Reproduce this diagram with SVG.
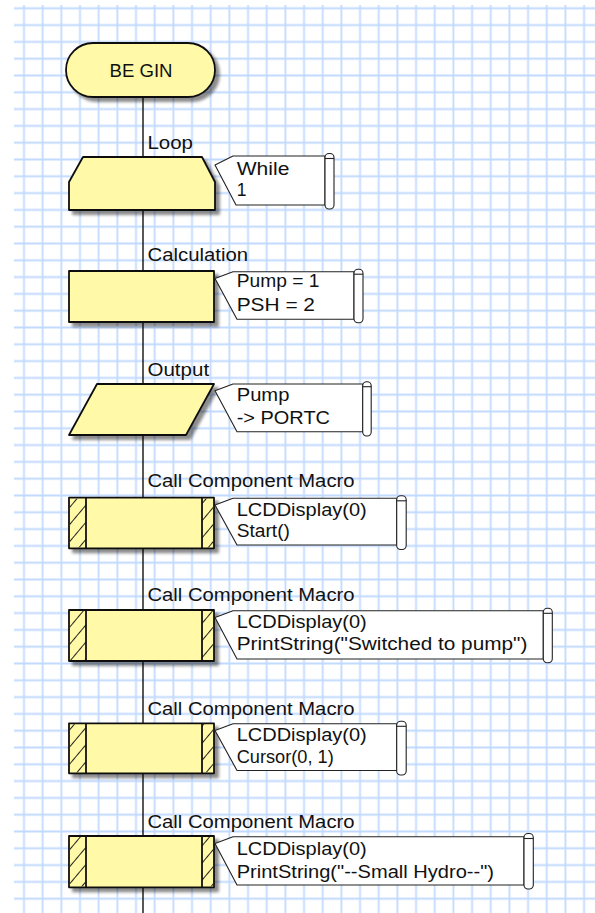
<svg xmlns="http://www.w3.org/2000/svg" width="595" height="913" viewBox="0 0 595 913">
<defs>
<pattern id="grid" patternUnits="userSpaceOnUse" x="14.67" y="-0.1" width="18.67" height="16.8">
<path d="M9.33 0V16.8M0 8.4H18.67" stroke="#c2daff" stroke-width="1.8" fill="none"/>
</pattern>
<pattern id="hatch" patternUnits="userSpaceOnUse" width="11" height="11" patternTransform="rotate(-50)">
<line x1="0" y1="5.5" x2="11" y2="5.5" stroke="#222" stroke-width="1"/>
</pattern>
<filter id="sh" x="-10%" y="-10%" width="130%" height="140%">
<feDropShadow dx="4" dy="4" stdDeviation="1.6" flood-color="#000" flood-opacity="0.45"/>
</filter>
<style>
.shape{fill:#fff9a8;stroke:#111;stroke-width:1.8;stroke-linejoin:round}
.band{fill:url(#hatch);stroke:none}
.div{stroke:#111;stroke-width:1.8}
.cm{fill:#fff;stroke:#222;stroke-width:1.1;stroke-linejoin:round}
.scroll{fill:#fff;stroke:#222;stroke-width:1.1}
text{font-family:"Liberation Sans",Arial,sans-serif;font-size:17.5px;fill:#111}
.conn{stroke:#111;stroke-width:1.4;fill:none}
</style>
</defs>
<rect width="595" height="913" fill="#fff"/>
<rect x="14" y="5" width="581" height="908" fill="url(#grid)"/>

<g id="connectors">
<line class="conn" x1="143" y1="97" x2="143" y2="913"/>
</g>

<g id="begin">
<rect class="shape" x="66" y="43" width="149" height="54" rx="27" filter="url(#sh)"/>
<text x="141" y="77" text-anchor="middle" textLength="63" lengthAdjust="spacingAndGlyphs">BE GIN</text>
</g>

<g id="loop">
<text x="147.5" y="149" textLength="45.5" lengthAdjust="spacingAndGlyphs">Loop</text>
<path class="shape" d="M83 157H202L215 182V210H69V182Z" filter="url(#sh)"/>
<path class="cm" d="M233 156H325V205H236L215 165Z"/>
<rect class="scroll" x="325" y="153.5" width="9" height="55.5" rx="4"/>
<line class="scroll" x1="325" y1="158.5" x2="334" y2="158.5"/>
<text x="236.7" y="174.5" textLength="52.7" lengthAdjust="spacingAndGlyphs">While</text>
<text x="236.7" y="196">1</text>
</g>

<g id="calculation">
<text x="147.5" y="261" textLength="100.6" lengthAdjust="spacingAndGlyphs">Calculation</text>
<rect class="shape" x="69" y="271" width="145" height="51" filter="url(#sh)"/>
<path class="cm" d="M233 271.7H354V319.3H237L215 278.5Z"/>
<rect class="scroll" x="354" y="269.2" width="9" height="53.5" rx="4"/>
<line class="scroll" x1="354" y1="274.2" x2="363" y2="274.2"/>
<text x="236.7" y="287.3" textLength="82.7" lengthAdjust="spacingAndGlyphs">Pump = 1</text>
<text x="236.7" y="310.5" textLength="78.3" lengthAdjust="spacingAndGlyphs">PSH = 2</text>
</g>

<g id="output">
<text x="147.5" y="375.7" textLength="61.6" lengthAdjust="spacingAndGlyphs">Output</text>
<path class="shape" d="M97 384H214L186 435H69Z" filter="url(#sh)"/>
<path class="cm" d="M233 384H362.7V431.7H237L215 390.7Z"/>
<rect class="scroll" x="362.7" y="381.7" width="8.5" height="54.3" rx="4"/>
<line class="scroll" x1="362.7" y1="386.7" x2="371.2" y2="386.7"/>
<text x="236.7" y="400.7" textLength="52.7" lengthAdjust="spacingAndGlyphs">Pump</text>
<text x="236.7" y="424" textLength="93.3" lengthAdjust="spacingAndGlyphs">-&gt; PORTC</text>
</g>

<g id="macro1">
<text x="147.5" y="487" textLength="207" lengthAdjust="spacingAndGlyphs">Call Component Macro</text>
<rect class="shape" x="69" y="497.7" width="145" height="50.6" filter="url(#sh)"/>
<rect class="band" x="69.9" y="498.6" width="16.1" height="48.8"/>
<rect class="band" x="202" y="498.6" width="11.1" height="48.8"/>
<line class="div" x1="86" y1="497.7" x2="86" y2="548.3"/>
<line class="div" x1="202" y1="497.7" x2="202" y2="548.3"/>
<path class="cm" d="M233 498.3H396.7V545H237L215 505Z"/>
<rect class="scroll" x="396.7" y="495.8" width="9.5" height="53.7" rx="4"/>
<line class="scroll" x1="396.7" y1="500.8" x2="406.2" y2="500.8"/>
<text x="236.7" y="516" textLength="130" lengthAdjust="spacingAndGlyphs">LCDDisplay(0)</text>
<text x="236.7" y="537.3" textLength="53.3" lengthAdjust="spacingAndGlyphs">Start()</text>
</g>

<g id="macro2">
<text x="147.5" y="601" textLength="207" lengthAdjust="spacingAndGlyphs">Call Component Macro</text>
<rect class="shape" x="69" y="610" width="145" height="51" filter="url(#sh)"/>
<rect class="band" x="69.9" y="610.9" width="16.1" height="49.2"/>
<rect class="band" x="202" y="610.9" width="11.1" height="49.2"/>
<line class="div" x1="86" y1="610" x2="86" y2="661"/>
<line class="div" x1="202" y1="610" x2="202" y2="661"/>
<path class="cm" d="M233 610.7H543.3V659H237L215 617.5Z"/>
<rect class="scroll" x="543.3" y="608.3" width="9" height="54.4" rx="4"/>
<line class="scroll" x1="543.3" y1="613.3" x2="552.3" y2="613.3"/>
<text x="236.7" y="628.3" textLength="130" lengthAdjust="spacingAndGlyphs">LCDDisplay(0)</text>
<text x="236.7" y="650" textLength="290.7" lengthAdjust="spacingAndGlyphs">PrintString("Switched to pump")</text>
</g>

<g id="macro3">
<text x="147.5" y="714.5" textLength="207" lengthAdjust="spacingAndGlyphs">Call Component Macro</text>
<rect class="shape" x="69" y="723.3" width="145" height="50" filter="url(#sh)"/>
<rect class="band" x="69.9" y="724.2" width="16.1" height="48.2"/>
<rect class="band" x="202" y="724.2" width="11.1" height="48.2"/>
<line class="div" x1="86" y1="723.3" x2="86" y2="773.3"/>
<line class="div" x1="202" y1="723.3" x2="202" y2="773.3"/>
<path class="cm" d="M233 723.8H396.7V770.5H237L215 730.5Z"/>
<rect class="scroll" x="396.7" y="721.3" width="9.5" height="53.7" rx="4"/>
<line class="scroll" x1="396.7" y1="726.3" x2="406.2" y2="726.3"/>
<text x="236.7" y="741.3" textLength="130" lengthAdjust="spacingAndGlyphs">LCDDisplay(0)</text>
<text x="236.7" y="762.7" textLength="97" lengthAdjust="spacingAndGlyphs">Cursor(0, 1)</text>
</g>

<g id="macro4">
<text x="147.5" y="828" textLength="207" lengthAdjust="spacingAndGlyphs">Call Component Macro</text>
<rect class="shape" x="69" y="836" width="145" height="51.3" filter="url(#sh)"/>
<rect class="band" x="69.9" y="836.9" width="16.1" height="49.5"/>
<rect class="band" x="202" y="836.9" width="11.1" height="49.5"/>
<line class="div" x1="86" y1="836" x2="86" y2="887.3"/>
<line class="div" x1="202" y1="836" x2="202" y2="887.3"/>
<path class="cm" d="M233 836.7H524V885H237L215 843.5Z"/>
<rect class="scroll" x="524" y="833.5" width="9.3" height="55.5" rx="4"/>
<line class="scroll" x1="524" y1="838.5" x2="533.3" y2="838.5"/>
<text x="236.7" y="855" textLength="130" lengthAdjust="spacingAndGlyphs">LCDDisplay(0)</text>
<text x="236.7" y="878.3" textLength="257.3" lengthAdjust="spacingAndGlyphs">PrintString("--Small Hydro--")</text>
</g>
</svg>
